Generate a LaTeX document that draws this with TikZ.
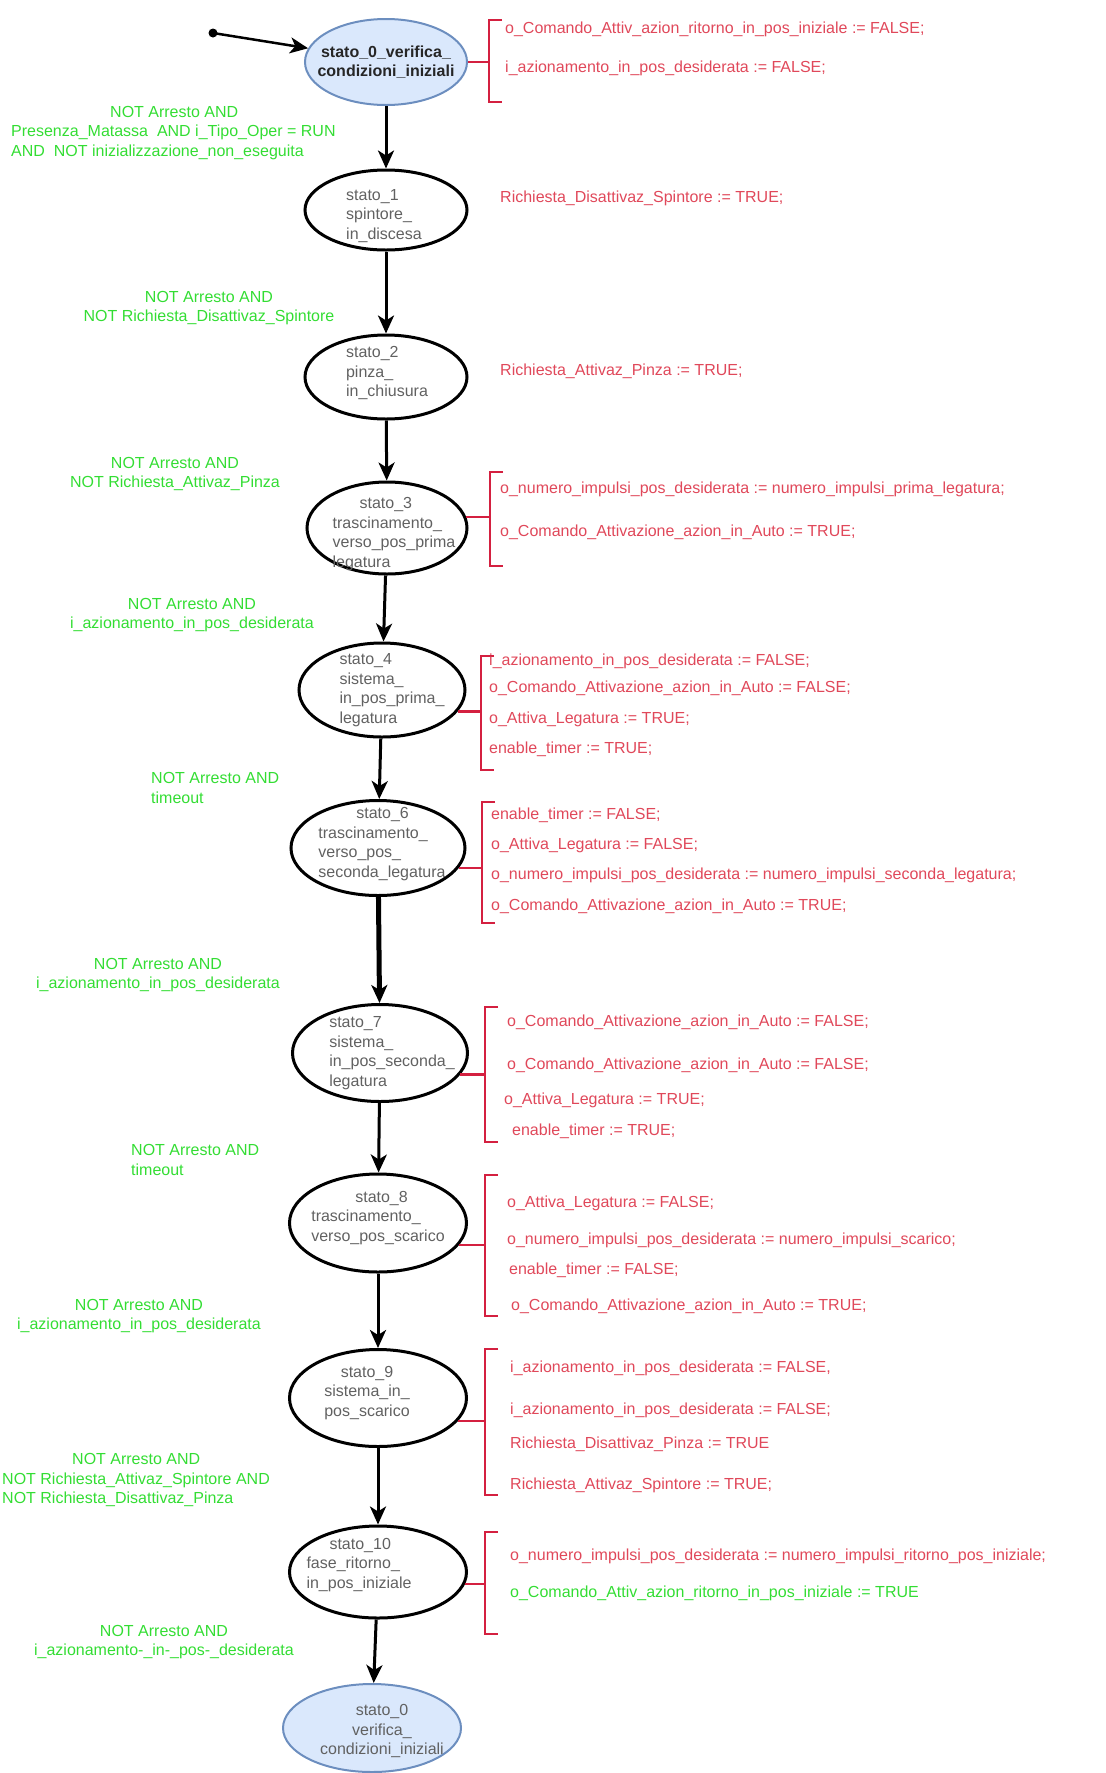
\documentclass[tikz,border=0pt]{standalone}
\usepackage{fontspec}
\setmainfont{Liberation Sans}
\usetikzlibrary{shapes.geometric,arrows.meta}

\definecolor{guardgreen}{HTML}{33DD33}
\definecolor{actred}{HTML}{E0485A}
\definecolor{bracered}{HTML}{D42040}
\definecolor{initfill}{HTML}{DAE8FC}
\definecolor{initline}{HTML}{6C8EBF}

\newcommand{\txt}{\fontsize{16}{19.5}\selectfont}

\begin{document}
\begin{tikzpicture}[x=1pt,y=-1pt,
    stato/.style={ellipse,draw,line width=3pt,inner sep=0pt},
    iniz/.style={stato,fill=initfill,draw=initline,line width=2pt},
    lbl/.style={text=black!62,font=\txt,align=left,inner sep=0pt},
    cond/.style={text=guardgreen,font=\txt,inner sep=0pt},
    act/.style={text=actred,font=\txt,anchor=west,inner sep=0pt},
    brk/.style={draw=bracered,line width=2.5pt},
    trans/.style={line width=3pt,-{Stealth[length=18pt,width=16pt,inset=5pt]}}]

\useasboundingbox (0,0) rectangle (1106,1773);

% states
\node[iniz,minimum width=162,minimum height=86,label={[lbl,align=center,text=black!85,font=\txt\bfseries]center:{stato\_0\_verifica\_\\condizioni\_iniziali}}] (s0) at (386,62) {};
\node[stato,minimum width=162,minimum height=80,label={[lbl,xshift=-2pt,yshift=-6pt]center:{stato\_1\\spintore\_\\in\_discesa}}] (s1) at (386,210) {};
\node[stato,minimum width=162,minimum height=84,label={[lbl,xshift=1pt,yshift=4pt]center:{stato\_2\\pinza\_\\in\_chiusura}}] (s2) at (386,377) {};
\node[stato,minimum width=160,minimum height=92,label={[lbl,xshift=7pt,yshift=-6pt]center:{\hspace*{27pt}stato\_3\\trascinamento\_\\verso\_pos\_prima\\legatura}}] (s3) at (387,528) {};
\node[stato,minimum width=166,minimum height=94,label={[lbl,xshift=10pt]center:{stato\_4\\sistema\_\\in\_pos\_prima\_\\legatura}}] (s4) at (382,690) {};
\node[stato,minimum width=174,minimum height=95,label={[lbl,xshift=4pt,yshift=4pt]center:{\hspace*{38pt}stato\_6\\trascinamento\_\\verso\_pos\_\\seconda\_legatura}}] (s6) at (378,848) {};
\node[stato,minimum width=175,minimum height=97,label={[lbl,xshift=12pt]center:{stato\_7\\sistema\_\\in\_pos\_seconda\_\\legatura}}] (s7) at (380,1053) {};
\node[stato,minimum width=177,minimum height=98,label={[lbl,yshift=5pt]center:{\hspace*{44pt}stato\_8\\trascinamento\_\\verso\_pos\_scarico}}] (s8) at (378,1223) {};
\node[stato,minimum width=177,minimum height=97,label={[lbl,align=center,xshift=-11pt,yshift=5pt]center:{stato\_9\\sistema\_in\_\\pos\_scarico}}] (s9) at (378,1398) {};
\node[stato,minimum width=177,minimum height=92,label={[lbl,xshift=-19pt,yshift=7pt]center:{\hspace*{23pt}stato\_10\\fase\_ritorno\_\\in\_pos\_iniziale}}] (s10) at (378,1572) {};
\node[iniz,minimum width=178,minimum height=88,label={[lbl,align=center,xshift=10pt,yshift=-3pt]center:{stato\_0\\verifica\_\\condizioni\_iniziali}}] (s0b) at (372,1728) {};

% entry point and transitions
\coordinate (start) at (213,33);
\fill (start) circle[radius=4.5pt];
\draw[trans,line width=2.5pt] (start) -- (s0.170);
\draw[trans] (s0) -- (s1);
\draw[trans] (s1) -- (s2);
\draw[trans] (s2) -- (s3);
\draw[trans] (s3) -- (s4);
\draw[trans] (s4) -- (s6);
\draw[trans,line width=5pt] (s6) -- (s7);
\draw[trans] (s7) -- (s8);
\draw[trans] (s8) -- (s9);
\draw[trans] (s9) -- (s10);
\draw[trans] (s10) -- (s0b);

% transition conditions
\node[cond,align=left,anchor=west] (c0) at (11,133) {\hspace*{99pt}NOT Arresto AND\\Presenza\_Matassa\ \ AND i\_Tipo\_Oper = RUN\\AND\ \ NOT inizializzazione\_non\_eseguita};
\node[cond,align=center] (c1) at (209,308) {NOT Arresto AND\\NOT Richiesta\_Disattivaz\_Spintore};
\node[cond,align=center] (c2) at (175,474) {NOT Arresto AND\\NOT Richiesta\_Attivaz\_Pinza};
\node[cond,align=center] (c3) at (192,615) {NOT Arresto AND\\i\_azionamento\_in\_pos\_desiderata};
\node[cond,align=left,anchor=west] (c4) at (151,788) {NOT Arresto AND\\timeout};
\node[cond,align=center] (c5) at (158,975) {NOT Arresto AND\\i\_azionamento\_in\_pos\_desiderata};
\node[cond,align=left,anchor=west] (c6) at (131,1160) {NOT Arresto AND\\timeout};
\node[cond,align=center] (c7) at (139,1316) {NOT Arresto AND\\i\_azionamento\_in\_pos\_desiderata};
\node[cond,align=left,anchor=west] (c8) at (2,1480) {\hspace*{70pt}NOT Arresto AND\\NOT Richiesta\_Attivaz\_Spintore AND\\NOT Richiesta\_Disattivaz\_Pinza};
\node[cond,align=center] (c9) at (164,1642) {NOT Arresto AND\\i\_azionamento-\_in-\_pos-\_desiderata};

% actions of stato_0
\coordinate (b0) at (489,62);
\draw[brk] (502,20) -| (489,102) -- (502,102);
\draw[brk] (s0.east) -- (s0.east -| b0);
\node[act] (a0a) at (505,29) {o\_Comando\_Attiv\_azion\_ritorno\_in\_pos\_iniziale := FALSE;};
\node[act] (a0b) at (505,68) {i\_azionamento\_in\_pos\_desiderata := FALSE;};

% actions of stato_1 and stato_2
\node[act] (a1) at (500,198) {Richiesta\_Disattivaz\_Spintore := TRUE;};
\node[act] (a2) at (500,371) {Richiesta\_Attivaz\_Pinza := TRUE;};

% actions of stato_3
\coordinate (b3) at (490,519);
\draw[brk] (503,472) -| (490,566) -- (503,566);
\draw[brk] (s3.8) -- (s3.8 -| b3);
\node[act] (a3a) at (500,489) {o\_numero\_impulsi\_pos\_desiderata := numero\_impulsi\_prima\_legatura;};
\node[act] (a3b) at (500,532) {o\_Comando\_Attivazione\_azion\_in\_Auto := TRUE;};

% actions of stato_4
\coordinate (b4) at (481,712);
\draw[brk] (494,656) -| (481,770) -- (494,770);
\draw[brk] (s4.-16) -- (s4.-16 -| b4);
\node[act] (a4a) at (489,661) {i\_azionamento\_in\_pos\_desiderata := FALSE;};
\node[act] (a4b) at (489,688) {o\_Comando\_Attivazione\_azion\_in\_Auto := FALSE;};
\node[act] (a4c) at (489,719) {o\_Attiva\_Legatura := TRUE;};
\node[act] (a4d) at (489,749) {enable\_timer := TRUE;};

% actions of stato_6
\coordinate (b6) at (482,868);
\draw[brk] (495,802) -| (482,923) -- (495,923);
\draw[brk] (s6.-14) -- (s6.-14 -| b6);
\node[act] (a6a) at (491,815) {enable\_timer := FALSE;};
\node[act] (a6b) at (491,845) {o\_Attiva\_Legatura := FALSE;};
\node[act] (a6c) at (491,875) {o\_numero\_impulsi\_pos\_desiderata := numero\_impulsi\_seconda\_legatura;};
\node[act] (a6d) at (491,906) {o\_Comando\_Attivazione\_azion\_in\_Auto := TRUE;};

% actions of stato_7
\coordinate (b7) at (485,1075);
\draw[brk] (498,1007) -| (485,1142) -- (498,1142);
\draw[brk] (s7.-15) -- (s7.-15 -| b7);
\node[act] (a7a) at (507,1022) {o\_Comando\_Attivazione\_azion\_in\_Auto := FALSE;};
\node[act] (a7b) at (507,1065) {o\_Comando\_Attivazione\_azion\_in\_Auto := FALSE;};
\node[act] (a7c) at (504,1100) {o\_Attiva\_Legatura := TRUE;};
\node[act] (a7d) at (512,1131) {enable\_timer := TRUE;};

% actions of stato_8
\coordinate (b8) at (485,1244);
\draw[brk] (498,1175) -| (485,1316) -- (498,1316);
\draw[brk] (s8.-15) -- (s8.-15 -| b8);
\node[act] (a8a) at (507,1203) {o\_Attiva\_Legatura := FALSE;};
\node[act] (a8b) at (507,1240) {o\_numero\_impulsi\_pos\_desiderata := numero\_impulsi\_scarico;};
\node[act] (a8c) at (509,1270) {enable\_timer := FALSE;};
\node[act] (a8d) at (511,1306) {o\_Comando\_Attivazione\_azion\_in\_Auto := TRUE;};

% actions of stato_9
\coordinate (b9) at (485,1421);
\draw[brk] (498,1349) -| (485,1495) -- (498,1495);
\draw[brk] (s9.-16) -- (s9.-16 -| b9);
\node[act] (a9a) at (510,1368) {i\_azionamento\_in\_pos\_desiderata := FALSE,};
\node[act] (a9b) at (510,1410) {i\_azionamento\_in\_pos\_desiderata := FALSE;};
\node[act] (a9c) at (510,1444) {Richiesta\_Disattivaz\_Pinza := TRUE};
\node[act] (a9d) at (510,1485) {Richiesta\_Attivaz\_Spintore := TRUE;};

% actions of stato_10
\coordinate (b10) at (485,1583);
\draw[brk] (498,1532) -| (485,1634) -- (498,1634);
\draw[brk] (s10.-8) -- (s10.-8 -| b10);
\node[act] (a10a) at (510,1556) {o\_numero\_impulsi\_pos\_desiderata := numero\_impulsi\_ritorno\_pos\_iniziale;};
\node[act,text=guardgreen] (a10b) at (510,1593) {o\_Comando\_Attiv\_azion\_ritorno\_in\_pos\_iniziale := TRUE};

\end{tikzpicture}
\end{document}
